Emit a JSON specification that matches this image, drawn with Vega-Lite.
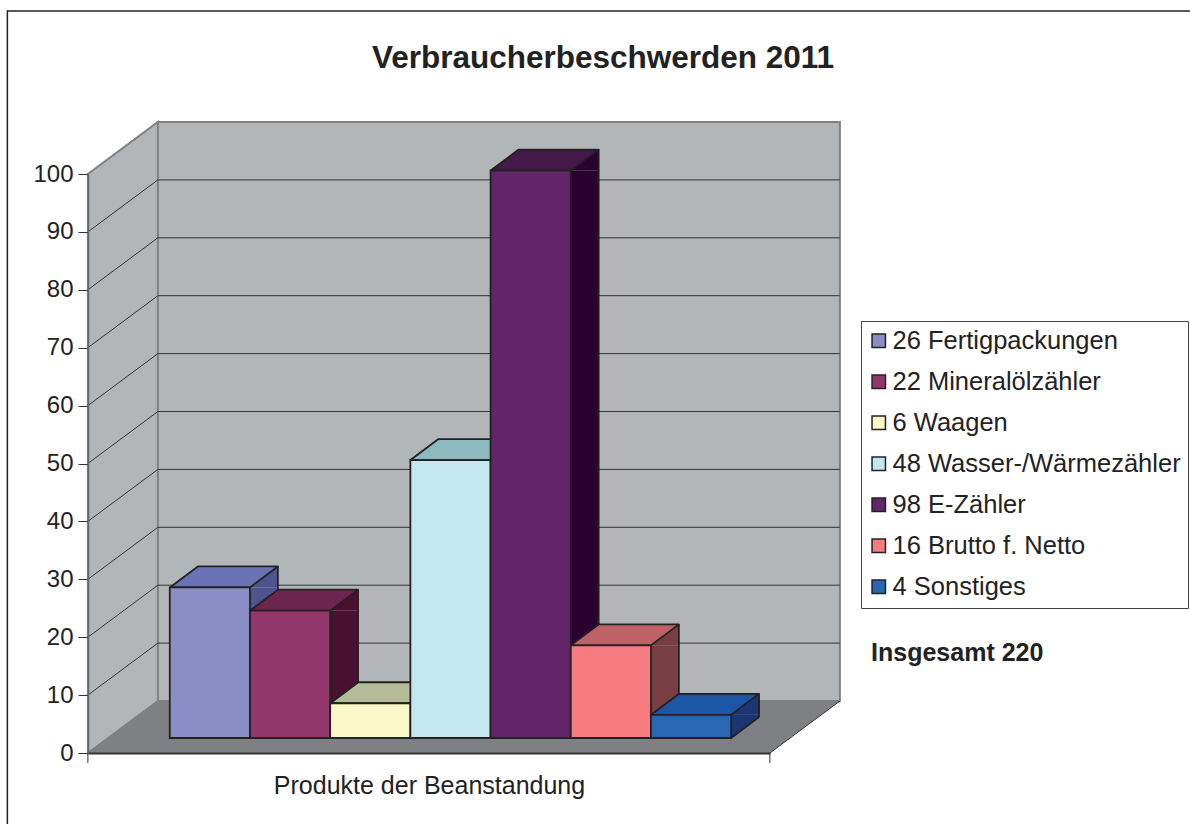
{
"$schema":"https://vega.github.io/schema/vega-lite/v6.json",
"autosize":{"type":"none"},
"padding":{"left":88,"top":174,"right":420,"bottom":71},
"width":682,"height":579,
"background":"white",
"title":{"text":"Verbraucherbeschwerden 2011","font":"Liberation Sans","fontSize":31.5,"fontWeight":"bold","color":"#222222","anchor":"middle","dx":174,"offset":-66},
"config":{"font":"Liberation Sans","view":{"stroke":null}},
"datasets":{
"bars":[
{"product":"26 Fertigpackungen","value":26},
{"product":"22 Mineralölzähler","value":22},
{"product":"6 Waagen","value":6},
{"product":"48 Wasser-/Wärmezähler","value":48},
{"product":"98 E-Zähler","value":98},
{"product":"16 Brutto f. Netto","value":16},
{"product":"4 Sonstiges","value":4}],
"ticks":[{"t":10},{"t":20},{"t":30},{"t":40},{"t":50},{"t":60},{"t":70},{"t":80},{"t":90}],
"base":[{"t":0}],
"note":[{"label":"Insgesamt 220","t":17}]
},
"encoding":{
"x":{"field":"product","type":"nominal","sort":null,"scale":{"type":"band","paddingInner":0,"paddingOuter":0.752,"align":0.678},
"axis":{"labels":false,"ticks":false,"domainColor":"#333333","domainWidth":2,"title":"Produkte der Beanstandung","titleFont":"Liberation Sans","titleFontSize":25,"titleFontWeight":"normal","titleColor":"#222222","titlePadding":20,"zindex":1}},
"y":{"field":"value","type":"quantitative","scale":{"domain":[0,100],"nice":false},
"axis":{"values":[0,10,20,30,40,50,60,70,80,90,100],"grid":false,"title":null,"labelFont":"Liberation Sans","labelFontSize":24,"labelColor":"#222222","labelPadding":5,"tickSize":10,"tickColor":"#333333","domainColor":"#666666","domainWidth":1.5,"zindex":1}}
},
"layer":[
{"data":{"name":"base"},
"mark":{"type":"point","size":4,"filled":true,"opacity":1,"fill":"#B3B6B9","stroke":"#808080","strokeWidth":2,"shape":"M-122,-579 L-52,-631 L-52,-52 L-122,0 Z M-52,-631 L630,-631 L630,-52 L-52,-52 Z"},
"encoding":{"x":{"datum":"26 Fertigpackungen"},"y":{"field":"t","type":"quantitative"}}},
{"data":{"name":"base"},
"mark":{"type":"point","size":4,"filled":true,"opacity":1,"fill":"#7F8083","shape":"M-122,0 L-52,-52 L630,-52 L560,0 Z"},
"encoding":{"x":{"datum":"26 Fertigpackungen"},"y":{"field":"t","type":"quantitative"}}},
{"data":{"name":"base"},
"mark":{"type":"point","size":4,"filled":false,"opacity":1,"fill":"transparent","stroke":"#333333","strokeWidth":1,"shape":"M-122,0 L-122,10 M560,10 L560,0 L630,-52"},
"encoding":{"x":{"datum":"26 Fertigpackungen"},"y":{"field":"t","type":"quantitative"}}},
{"data":{"name":"base"},
"mark":{"type":"point","size":4,"filled":false,"opacity":1,"fill":"transparent","stroke":"#222222","strokeWidth":1.5,"shape":"M-202.5,71 L-202.5,-742 L980,-742"},
"encoding":{"x":{"datum":"26 Fertigpackungen"},"y":{"field":"t","type":"quantitative"}}},
{"data":{"name":"ticks"},
"mark":{"type":"point","size":4,"filled":false,"opacity":1,"fill":"transparent","stroke":"#333333","strokeWidth":1,"shape":"M-122,0 L-52,-52 L630,-52"},
"encoding":{"x":{"datum":"26 Fertigpackungen"},"y":{"field":"t","type":"quantitative"}}},
{"data":{"name":"bars"},
"mark":{"type":"bar","size":28,"xOffset":54,"yOffset":-15,"y2Offset":-36},
"encoding":{"y2":{"datum":0},
"fill":{"field":"product","type":"nominal","sort":null,"legend":null,"scale":{"range":["#4E548E","#4A102F","#77785F","#5C7F87","#2A0030","#783E41","#1C3674"]}}}},
{"data":{"name":"bars"},
"mark":{"type":"point","size":4,"filled":true,"opacity":1,"shape":"M40,-15 L68,-36 L68,-15 Z"},
"encoding":{
"fill":{"field":"product","type":"nominal","sort":null,"legend":null,"scale":{"range":["#4E548E","#4A102F","#77785F","#5C7F87","#2A0030","#783E41","#1C3674"]}}}},
{"data":{"name":"bars"},
"mark":{"type":"point","size":4,"filled":true,"opacity":1,"shape":"M40,-15 L68,-36 L40,-36 Z"},
"encoding":{"y":{"datum":0},
"fill":{"field":"product","type":"nominal","sort":null,"legend":null,"scale":{"range":["#4E548E","#4A102F","#77785F","#5C7F87","#2A0030","#783E41","#1C3674"]}}}},
{"data":{"name":"bars"},
"mark":{"type":"point","size":4,"filled":false,"opacity":1,"fill":"transparent","stroke":"#222222","strokeWidth":1.8,"shape":"M40,-15 L68,-36"},
"encoding":{"y":{"datum":0}}},
{"data":{"name":"bars"},
"mark":{"type":"rule","stroke":"#222222","strokeWidth":1.8,"xOffset":68,"yOffset":-36,"y2Offset":-36},
"encoding":{"y2":{"datum":0}}},
{"data":{"name":"bars"},
"mark":{"type":"point","size":4,"filled":true,"opacity":1,"stroke":"#222222","strokeWidth":1.8,"strokeJoin":"round","shape":"M-40,-15 L-12,-36 L68,-36 L40,-15 Z"},
"encoding":{
"fill":{"field":"product","type":"nominal","sort":null,"legend":null,"scale":{"range":["#6C72B6","#6C2650","#B6BB98","#8EB9BF","#451A4A","#BE6267","#1D56A7"]}}}},
{"data":{"name":"bars"},
"mark":{"type":"bar","stroke":"#222222","strokeWidth":1.8,"yOffset":-15,"y2Offset":-15},
"encoding":{"y2":{"datum":0},
"fill":{"field":"product","type":"nominal","sort":null,
"scale":{"range":["#8B8DC5","#93366B","#FBF8C8","#C3E6EF","#632569","#F67C82","#2A67B3"]},
"legend":{"orient":"none","legendX":773,"legendY":147,"title":null,"symbolType":"square","symbolSize":180,"symbolOffset":-2,"symbolStrokeColor":"#222222","symbolStrokeWidth":1.5,"labelFont":"Liberation Sans","labelFontSize":25.5,"labelColor":"#222222","labelOffset":1,"labelLimit":400,"rowPadding":14,"padding":7,"strokeColor":"#444444","fillColor":"white","offset":0}}}},
{"data":{"name":"note"},
"mark":{"type":"text","font":"Liberation Sans","fontSize":25,"fontWeight":"bold","color":"#222222","align":"left","baseline":"middle","dx":180,"dy":-2},
"encoding":{"x":{"datum":"4 Sonstiges"},"y":{"field":"t","type":"quantitative"},"text":{"field":"label"}}}
],
"resolve":{"scale":{"fill":"independent"}}
}
